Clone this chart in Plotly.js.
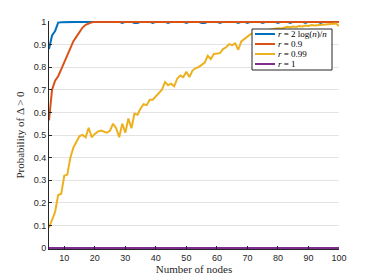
<!DOCTYPE html>
<html><head><meta charset="utf-8">
<script src="https://cdn.plot.ly/plotly-3.0.1.min.js"></script>
<style>html,body{margin:0;padding:0;background:#fff}#chart{width:374px;height:280px}</style>
</head><body><div id="chart"></div>
<script>
const nodes = [5,6,7,8,9,10,11,12,13,14,15,16,17,18,19,20,21,22,23,24,25,26,27,28,29,30,31,32,33,34,35,36,37,38,39,40,41,42,43,44,45,46,47,48,49,50,51,52,53,54,55,56,57,58,59,60,61,62,63,64,65,66,67,68,69,70,71,72,73,74,75,76,77,78,79,80,81,82,83,84,85,86,87,88,89,90,91,92,93,94,95,96,97,98,99,100];
const rLog = [0.88,0.94,0.96,0.997,0.998,0.999,1,0.998,1,1,1,1,0.999,1,1,1,1,1,1,1,1,1,1,1,0.995,1,1,1,0.995,0.995,1,1,1,1,0.995,1,1,1,1,0.995,1,1,1,1,1,0.995,1,1,1,1,0.995,0.995,1,1,1,1,0.995,1,1,1,1,1,0.995,1,1,0.995,1,1,1,1,0.995,1,1,1,1,0.995,1,1,1,0.995,1,1,1,1,0.995,1,1,1,1,0.995,1,1,1,0.995,1,1];
const r09 = [0.565,0.70,0.74,0.76,0.79,0.82,0.85,0.885,0.915,0.935,0.955,0.975,0.987,0.994,0.998,1,1,1,1,1,1,1,1,1,1,1,1,1,1,1,1,1,1,1,1,1,1,1,1,1,1,1,1,1,1,1,1,1,1,1,1,1,1,1,1,1,1,1,1,1,1,1,1,1,1,1,1,1,1,1,1,1,1,1,1,1,1,1,1,1,1,1,1,1,1,1,1,1,1,1,1,1,1,1,1,1];
const r099 = [0.09,0.13,0.16,0.235,0.24,0.32,0.325,0.40,0.445,0.47,0.495,0.50,0.49,0.532,0.49,0.505,0.515,0.52,0.515,0.51,0.52,0.55,0.53,0.49,0.55,0.51,0.573,0.53,0.595,0.59,0.617,0.636,0.632,0.656,0.656,0.67,0.683,0.70,0.734,0.72,0.727,0.715,0.749,0.763,0.756,0.78,0.756,0.785,0.795,0.80,0.81,0.82,0.85,0.836,0.858,0.86,0.862,0.88,0.888,0.902,0.897,0.905,0.877,0.914,0.925,0.935,0.946,0.95,0.955,0.958,0.962,0.96,0.965,0.968,0.97,0.972,0.97,0.975,0.978,0.976,0.98,0.978,0.982,0.98,0.984,0.982,0.986,0.984,0.985,0.988,0.987,0.99,0.988,0.99,0.993,0.982];
const r1 = [0,0,0,0,0,0,0,0,0,0,0,0,0,0,0,0,0,0,0,0,0,0,0,0,0,0,0,0,0,0,0,0,0,0,0,0,0,0,0,0,0,0,0,0,0,0,0,0,0,0,0,0,0,0,0,0,0,0,0,0,0,0,0,0,0,0,0,0,0,0,0,0,0,0,0,0,0,0,0,0,0,0,0,0,0,0,0,0,0,0,0,0,0,0,0,0];
const seriesNames = ['<i>r</i> = 2 log(<i>n</i>)/<i>n</i>','<i>r</i> = 0.9','<i>r</i> = 0.99','<i>r</i> = 1'];
const seriesColors = ['#0072BD','#D95319','#EDB120','#7E2F8E'];
const xTicks = [10,20,30,40,50,60,70,80,90,100];
const yTicks = [0,0.1,0.2,0.3,0.4,0.5,0.6,0.7,0.8,0.9,1];
const yTickText = ['0','0.1','0.2','0.3','0.4','0.5','0.6','0.7','0.8','0.9','1'];

const series = [rLog, r09, r099, r1];
const traces = series.map((ys,i)=>({x:nodes,y:ys,type:'scatter',mode:'lines',name:seriesNames[i],
  line:{color:seriesColors[i],width:2},showlegend:false,hoverinfo:'skip'}));

// plot area in pixels
const W=374,H=280,L=49,R=339,T=21,B=249;
const px=v=>(v-L)/(R-L), py=v=>(B-v)/(B-T);
const shapes=[{type:'rect',xref:'paper',yref:'paper',x0:px(252),x1:px(332),y0:py(70),y1:py(29),
  line:{color:'#262626',width:1},fillcolor:'#ffffff',layer:'above'}];
const annotations=[];
const rows=[34,44,54,64];
rows.forEach((ry,i)=>{
  shapes.push({type:'line',xref:'paper',yref:'paper',x0:px(255),x1:px(275),y0:py(ry),y1:py(ry),
    line:{color:seriesColors[i],width:2},layer:'above'});
  annotations.push({xref:'paper',yref:'paper',x:px(276),y:py(ry),xanchor:'left',yanchor:'middle',
    text:seriesNames[i],showarrow:false,font:{family:'Liberation Serif',size:9,color:'#000'}});
});

const layout={width:W,height:H,margin:{l:L,r:W-R,t:T,b:H-B},paper_bgcolor:'#fff',plot_bgcolor:'#fff',
  showlegend:false,
  xaxis:{range:[5,100],tickvals:xTicks,ticktext:xTicks.map(String),ticks:'inside',ticklen:3,tickcolor:'#262626',
    showline:true,linecolor:'#262626',linewidth:1,showgrid:false,zeroline:false,
    tickfont:{family:'Liberation Sans',size:9,color:'#262626'},
    title:{text:'Number of nodes',font:{family:'Liberation Serif',size:11,color:'#262626'},standoff:2}},
  yaxis:{range:[-0.004,1.004],tickvals:yTicks,ticktext:yTickText,ticks:'inside',ticklen:3,tickcolor:'#262626',
    showline:true,linecolor:'#262626',linewidth:1,showgrid:true,gridcolor:'#e3e3e3',gridwidth:1,zeroline:false,
    tickfont:{family:'Liberation Sans',size:9,color:'#262626'},
    title:{text:'Probability of Δ &gt; 0',font:{family:'Liberation Serif',size:11,color:'#262626'},standoff:6}},
  shapes:shapes,annotations:annotations};
Plotly.newPlot('chart',traces,layout,{staticPlot:true,displayModeBar:false});
</script></body></html>
